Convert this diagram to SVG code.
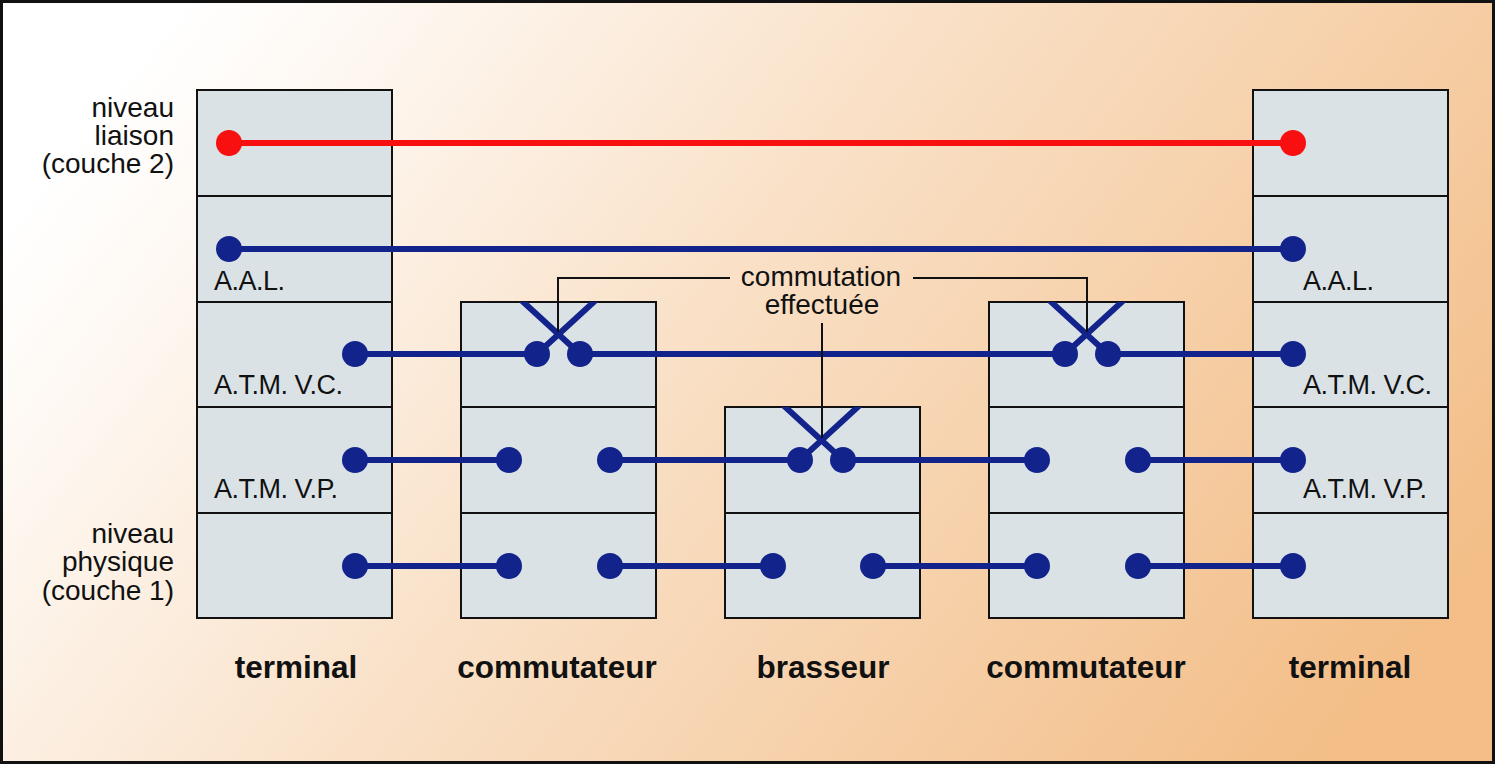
<svg xmlns="http://www.w3.org/2000/svg" width="1499" height="765" viewBox="0 0 1499 765">
<defs>
<linearGradient id="bg" x1="0" y1="0.3" x2="1" y2="0.7">
<stop offset="0" stop-color="#ffffff"/>
<stop offset="0.12" stop-color="#fef8f2"/>
<stop offset="0.45" stop-color="#f9e0c6"/>
<stop offset="1" stop-color="#f3be88"/>
</linearGradient>
<clipPath id="c1"><rect x="461" y="302" width="195" height="105"/></clipPath>
<clipPath id="c2"><rect x="989" y="302" width="195" height="105"/></clipPath>
<clipPath id="c3"><rect x="725" y="407" width="195" height="106"/></clipPath>
<style>
.box{fill:#dae2e5;stroke:#111;stroke-width:2}
.blue{stroke:#13238c;stroke-width:6;fill:none}
.red{stroke:#f80f0f;stroke-width:6;fill:none}
.dotb{fill:#13238c}
.dotr{fill:#f80f0f}
.call{stroke:#111;stroke-width:2;fill:none}
.lbl{font-family:"Liberation Sans",Arial,sans-serif;font-size:28px;fill:#111}
.lay{font-family:"Liberation Sans",Arial,sans-serif;font-size:27px;letter-spacing:-0.5px;fill:#111}
.ttl{font-family:"Liberation Sans",Arial,sans-serif;font-size:31.5px;font-weight:bold;fill:#111;text-anchor:middle}
</style>
</defs>
<rect x="1.5" y="1.5" width="1492" height="761" fill="url(#bg)" stroke="#111" stroke-width="3"/>

<g id="terminal-left">
<rect class="box" x="197" y="90" width="195" height="106"/>
<rect class="box" x="197" y="196" width="195" height="106"/>
<rect class="box" x="197" y="302" width="195" height="105"/>
<rect class="box" x="197" y="407" width="195" height="106"/>
<rect class="box" x="197" y="513" width="195" height="105"/>
<text class="lay" x="214" y="290">A.A.L.</text>
<text class="lay" x="214" y="394">A.T.M. V.C.</text>
<text class="lay" x="214" y="498">A.T.M. V.P.</text>
<text class="ttl" x="296" y="678">terminal</text>
</g>

<g id="commutateur-1">
<rect class="box" x="461" y="302" width="195" height="105"/>
<rect class="box" x="461" y="407" width="195" height="106"/>
<rect class="box" x="461" y="513" width="195" height="105"/>
<text class="ttl" x="557" y="678">commutateur</text>
</g>

<g id="brasseur">
<rect class="box" x="725" y="407" width="195" height="106"/>
<rect class="box" x="725" y="513" width="195" height="105"/>
<text class="ttl" x="823" y="678">brasseur</text>
</g>

<g id="commutateur-2">
<rect class="box" x="989" y="302" width="195" height="105"/>
<rect class="box" x="989" y="407" width="195" height="106"/>
<rect class="box" x="989" y="513" width="195" height="105"/>
<text class="ttl" x="1086" y="678">commutateur</text>
</g>

<g id="terminal-right">
<rect class="box" x="1253" y="90" width="195" height="106"/>
<rect class="box" x="1253" y="196" width="195" height="106"/>
<rect class="box" x="1253" y="302" width="195" height="105"/>
<rect class="box" x="1253" y="407" width="195" height="106"/>
<rect class="box" x="1253" y="513" width="195" height="105"/>
<text class="lay" x="1303" y="290">A.A.L.</text>
<text class="lay" x="1303" y="394">A.T.M. V.C.</text>
<text class="lay" x="1303" y="498">A.T.M. V.P.</text>
<text class="ttl" x="1350" y="678">terminal</text>
</g>

<g id="layer-labels">
<text class="lbl" text-anchor="end" x="174" y="117">niveau</text>
<text class="lbl" text-anchor="end" x="174" y="145">liaison</text>
<text class="lbl" text-anchor="end" x="174" y="173">(couche 2)</text>
<text class="lbl" text-anchor="end" x="174" y="543">niveau</text>
<text class="lbl" text-anchor="end" x="174" y="571">physique</text>
<text class="lbl" text-anchor="end" x="174" y="600">(couche 1)</text>
</g>

<g id="connectors">
<line class="red" x1="229" y1="143" x2="1293" y2="143"/>
<line class="blue" x1="229" y1="249" x2="1293" y2="249"/>
<line class="blue" x1="355" y1="354" x2="537" y2="354"/>
<line class="blue" x1="580" y1="354" x2="1065" y2="354"/>
<line class="blue" x1="1108" y1="354" x2="1293" y2="354"/>
<g clip-path="url(#c1)">
<line class="blue" x1="537" y1="354" x2="597" y2="299"/>
<line class="blue" x1="580" y1="354" x2="520" y2="299"/>
</g>
<g clip-path="url(#c2)">
<line class="blue" x1="1065" y1="354" x2="1125" y2="299"/>
<line class="blue" x1="1108" y1="354" x2="1048" y2="299"/>
</g>
<line class="blue" x1="355" y1="460" x2="509" y2="460"/>
<line class="blue" x1="610" y1="460" x2="800" y2="460"/>
<line class="blue" x1="843" y1="460" x2="1037" y2="460"/>
<line class="blue" x1="1138" y1="460" x2="1293" y2="460"/>
<g clip-path="url(#c3)">
<line class="blue" x1="800" y1="460" x2="861" y2="404"/>
<line class="blue" x1="843" y1="460" x2="782" y2="404"/>
</g>
<line class="blue" x1="355" y1="566" x2="509" y2="566"/>
<line class="blue" x1="610" y1="566" x2="773" y2="566"/>
<line class="blue" x1="873" y1="566" x2="1037" y2="566"/>
<line class="blue" x1="1138" y1="566" x2="1293" y2="566"/>
<circle class="dotr" cx="229" cy="143" r="13"/>
<circle class="dotr" cx="1293" cy="143" r="13"/>
<circle class="dotb" cx="229" cy="249" r="13"/>
<circle class="dotb" cx="1293" cy="249" r="13"/>
<circle class="dotb" cx="355" cy="354" r="13"/>
<circle class="dotb" cx="537" cy="354" r="13"/>
<circle class="dotb" cx="580" cy="354" r="13"/>
<circle class="dotb" cx="1065" cy="354" r="13"/>
<circle class="dotb" cx="1108" cy="354" r="13"/>
<circle class="dotb" cx="1293" cy="354" r="13"/>
<circle class="dotb" cx="355" cy="460" r="13"/>
<circle class="dotb" cx="509" cy="460" r="13"/>
<circle class="dotb" cx="610" cy="460" r="13"/>
<circle class="dotb" cx="800" cy="460" r="13"/>
<circle class="dotb" cx="843" cy="460" r="13"/>
<circle class="dotb" cx="1037" cy="460" r="13"/>
<circle class="dotb" cx="1138" cy="460" r="13"/>
<circle class="dotb" cx="1293" cy="460" r="13"/>
<circle class="dotb" cx="355" cy="566" r="13"/>
<circle class="dotb" cx="509" cy="566" r="13"/>
<circle class="dotb" cx="610" cy="566" r="13"/>
<circle class="dotb" cx="773" cy="566" r="13"/>
<circle class="dotb" cx="873" cy="566" r="13"/>
<circle class="dotb" cx="1037" cy="566" r="13"/>
<circle class="dotb" cx="1138" cy="566" r="13"/>
<circle class="dotb" cx="1293" cy="566" r="13"/>
</g>

<g id="callout">
<polyline class="call" points="558,332 558,278 730,278"/>
<polyline class="call" points="913,278 1087,278 1087,332"/>
<line class="call" x1="822" y1="323" x2="822" y2="438"/>
<text class="lbl" x="821" y="286" text-anchor="middle">commutation</text>
<text class="lbl" x="822" y="314" text-anchor="middle">effectuée</text>
</g>
</svg>
